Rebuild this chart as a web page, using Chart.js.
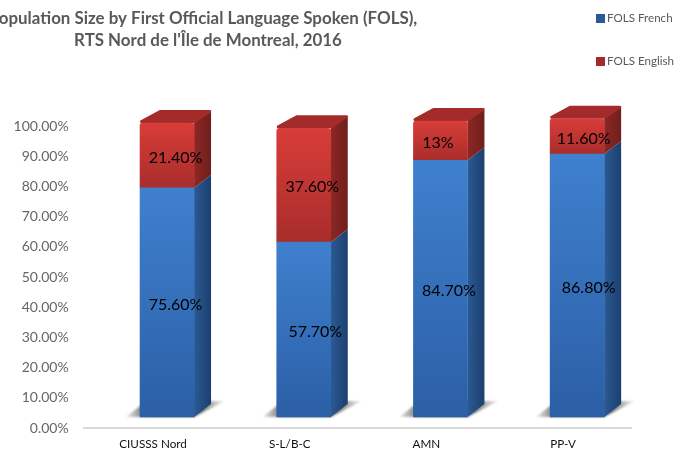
<!DOCTYPE html>
<html>
<head>
<meta charset="utf-8">
<title>FOLS</title>
<script src="https://cdn.jsdelivr.net/npm/chart.js@4/dist/chart.umd.min.js"></script>
<style>
  html, body { margin: 0; padding: 0; background: #fff; overflow: hidden; }
  canvas { display: block; }
</style>
</head>
<body>
<canvas id="chart" width="688" height="453"></canvas>
<script>
// Chart data
const categories = ['CIUSSS Nord', 'S-L/B-C', 'AMN', 'PP-V'];
const frenchValues = [75.6, 57.7, 84.7, 86.8];
const englishValues = [21.4, 37.6, 13, 11.6];
const frenchLabels = ['75.60%', '57.70%', '84.70%', '86.80%'];
const englishLabels = ['21.40%', '37.60%', '13%', '11.60%'];
const titleLines = ['Population Size by First Official Language Spoken (FOLS),', "RTS Nord de l'Île de Montreal, 2016"];

// 3D look of the bars
const DEPTH_X = 17;
const DEPTH_Y = 13;
const FONT = 'Lato, "Open Sans", sans-serif';
const labelNudgeX = [[0, 3, 0, 3], [0, 0, -11, -2]];

const faces = [
  { top: '#3f80ce', bottom: '#2b5fa6', side: ['#2a5a94', '#1c3f6e'], roof: '#2a5a94' },
  { top: '#d83d39', bottom: '#a82d2b', side: ['#8d2724', '#6f1f1c'], roof: '#a32b29' }
];

function frontGradient(ctx, faceIndex, stackStart, stackEnd) {
  const chart = ctx.chart;
  const y = chart.scales.yBars;
  const y0 = y.getPixelForValue(stackEnd);
  const y1 = y.getPixelForValue(stackStart);
  // scales have no size yet on the first pass
  if (!isFinite(y0) || !isFinite(y1)) return faces[faceIndex].top;
  const g = chart.ctx.createLinearGradient(0, y0, 0, y1);
  g.addColorStop(0, faces[faceIndex].top);
  g.addColorStop(1, faces[faceIndex].bottom);
  return g;
}

// Draws the floor shadow, side faces and roof behind each bar
const extrudePlugin = {
  id: 'extrude',
  beforeDatasetsDraw(chart) {
    const c = chart.ctx;
    const metas = chart.getSortedVisibleDatasetMetas();
    metas[0].data.forEach(el => {
      const right = el.x + el.width / 2;
      const left = el.x - el.width / 2;
      const g = c.createLinearGradient(left - 14, 0, right + 31, 0);
      g.addColorStop(0, 'rgba(110,110,110,0.15)');
      g.addColorStop(0.2, 'rgba(90,90,90,0.9)');
      g.addColorStop(0.75, 'rgba(90,90,90,0.9)');
      g.addColorStop(1, 'rgba(130,130,130,0.1)');
      c.save();
      c.filter = 'blur(1px)';
      c.fillStyle = g;
      c.beginPath();
      c.moveTo(left - 14, el.base);
      c.lineTo(right, el.base);
      c.lineTo(right + 31, el.base - 16);
      c.lineTo(left + 6, el.base - 16);
      c.closePath();
      c.fill();
      c.restore();
    });
    metas.forEach((meta, d) => {
      meta.data.forEach(el => {
        const right = el.x + el.width / 2;
        const left = el.x - el.width / 2;
        const g = c.createLinearGradient(right, 0, right + DEPTH_X, 0);
        g.addColorStop(0, faces[d].side[0]);
        g.addColorStop(1, faces[d].side[1]);
        c.fillStyle = g;
        c.beginPath();
        c.moveTo(right, el.y);
        c.lineTo(right + DEPTH_X, el.y - DEPTH_Y);
        c.lineTo(right + DEPTH_X, el.base - DEPTH_Y);
        c.lineTo(right, el.base);
        c.closePath();
        c.fill();
        if (d === metas.length - 1) {
          // stroke in the same colour rounds the roof corners
          c.fillStyle = faces[d].roof;
          c.strokeStyle = faces[d].roof;
          c.lineWidth = 3;
          c.lineJoin = 'round';
          c.beginPath();
          c.moveTo(left + 1.5, el.y - 1.5);
          c.lineTo(left + DEPTH_X + 3, el.y - DEPTH_Y + 1.5);
          c.lineTo(right + DEPTH_X - 1.5, el.y - DEPTH_Y + 1.5);
          c.lineTo(right, el.y - 1.5);
          c.closePath();
          c.fill();
          c.stroke();
        }
      });
    });
  },
  afterDatasetsDraw(chart) {
    const c = chart.ctx;
    c.save();
    c.fillStyle = '#000';
    c.font = '16px ' + FONT;
    c.textAlign = 'center';
    c.textBaseline = 'middle';
    chart.getSortedVisibleDatasetMetas().forEach((meta, d) => {
      const texts = d === 0 ? frenchLabels : englishLabels;
      meta.data.forEach((el, i) => {
        c.fillText(texts[i], el.x + DEPTH_X / 2 + labelNudgeX[d][i], (el.y + el.base) / 2 + 2);
      });
    });
    c.restore();
  }
};

// Title (runs off the left edge), legend and baseline
const decorPlugin = {
  id: 'decor',
  afterDraw(chart) {
    const c = chart.ctx;
    c.save();
    c.fillStyle = '#595959';
    c.font = 'bold 16.9px ' + FONT;
    c.textAlign = 'center';
    c.textBaseline = 'middle';
    c.fillText(titleLines[0], 203, 19);
    c.fillText(titleLines[1], 208, 41);

    c.font = '11.6px ' + FONT;
    c.textAlign = 'left';
    chart.data.datasets.forEach((ds, i) => {
      const y = 18.5 + i * 43;
      c.fillStyle = i === 0 ? '#2a5a94' : '#a32b29';
      c.fillRect(596, y - 4.5, 9, 9);
      c.fillStyle = '#595959';
      c.fillText(ds.label, 607, y);
    });

    const zero = chart.scales.y.getPixelForValue(0);
    c.strokeStyle = '#d9d9d9';
    c.lineWidth = 2;
    c.beginPath();
    c.moveTo(83, zero);
    c.lineTo(632, zero);
    c.stroke();
    c.restore();
  }
};

new Chart(document.getElementById('chart'), {
  type: 'bar',
  data: {
    labels: categories,
    datasets: [
      {
        label: 'FOLS French',
        data: frenchValues,
        yAxisID: 'yBars',
        barThickness: 54,
        clip: false,
        backgroundColor: ctx => frontGradient(ctx, 0, 0, frenchValues[ctx.dataIndex])
      },
      {
        label: 'FOLS English',
        data: englishValues,
        yAxisID: 'yBars',
        barThickness: 54,
        clip: false,
        borderRadius: { topLeft: 3, topRight: 3 },
        backgroundColor: ctx => frontGradient(ctx, 1, frenchValues[ctx.dataIndex], frenchValues[ctx.dataIndex] + englishValues[ctx.dataIndex])
      }
    ]
  },
  options: {
    responsive: false,
    animation: false,
    layout: { padding: { top: 126, right: 42.5, left: 0, bottom: 0 } },
    plugins: {
      legend: { display: false },
      tooltip: { enabled: false },
      title: { display: false }
    },
    scales: {
      x: {
        stacked: true,
        grid: { display: false, drawTicks: false },
        border: { display: false },
        afterFit: scale => { scale.height = 25; },
        ticks: { color: '#111', font: { family: FONT, size: 11.7 }, labelOffset: -14, padding: 9, maxRotation: 0 }
      },
      y: {
        position: 'left',
        min: 0,
        max: 100,
        grid: { display: false, drawTicks: false },
        border: { display: false },
        afterFit: scale => { scale.width = 98.7; scale.paddingBottom = 0; scale.paddingTop = 0; },
        ticks: {
          stepSize: 10,
          color: '#666',
          padding: 30,
          font: { family: FONT, size: 14 },
          callback: v => v.toFixed(2) + '%'
        }
      },
      // the bars stand on a floor above the axis zero, so they get their own scale
      yBars: { display: false, stacked: true, min: -3.63, max: 96.04 }
    }
  },
  plugins: [extrudePlugin, decorPlugin]
});
</script>
</body>
</html>
